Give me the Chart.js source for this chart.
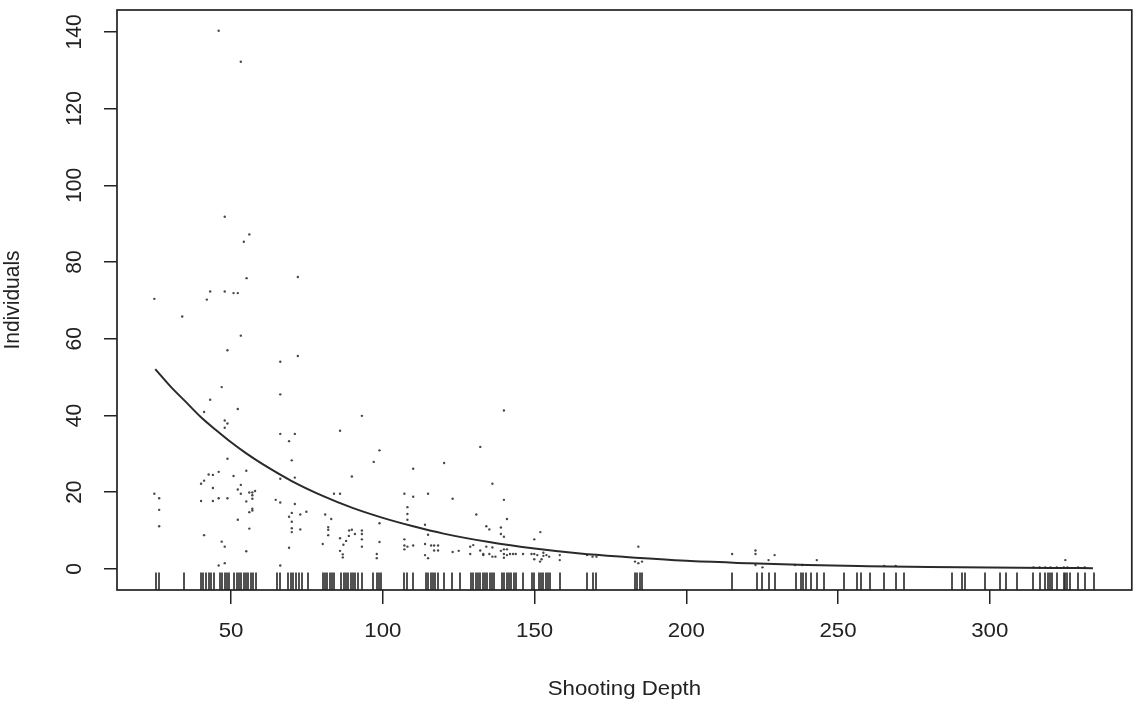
<!DOCTYPE html>
<html>
<head>
<meta charset="utf-8">
<script src="https://cdn.jsdelivr.net/npm/chart.js@4/dist/chart.umd.min.js"></script>
<style>
  html, body { margin: 0; padding: 0; background: #ffffff; }
  #plot { display: block; }
</style>
</head>
<body>
<canvas id="plot" width="1133" height="706"></canvas>
<script>
// Observed counts per shooting depth (paired arrays)
const depth = [
  45.9, 53.2, 47.9, 56.0, 54.2, 55.1, 72.0, 43.1, 47.9, 50.8, 52.2, 24.7, 42.0, 33.9, 53.2, 48.8,
  66.2, 72.0, 46.9, 43.1, 66.2, 41.1, 52.2, 47.9, 48.8, 47.9, 66.2, 69.1, 71.0, 85.9, 70.0, 48.8,
  55.0, 45.9, 44.0, 42.6, 50.8, 40.1, 41.1, 44.0, 52.2, 53.2, 53.2, 56.0, 57.0, 57.9, 57.0, 57.0,
  71.0, 89.8, 24.7, 26.3, 26.3, 26.3, 40.1, 44.0, 45.9, 48.8, 55.0, 57.0, 56.0, 57.0, 64.7, 66.2,
  70.0, 69.1, 70.0, 70.0, 70.0, 71.0, 72.8, 72.8, 74.8, 52.2, 56.0, 55.0, 41.1, 46.9, 47.9, 45.9,
  47.9, 66.2, 69.1, 81.0, 83.0, 83.9, 85.9, 82.0, 82.0, 82.0, 80.2, 85.9, 87.0, 88.8, 89.8, 90.8,
  85.9, 86.8, 86.8, 87.9, 88.9, 66.2, 93.1, 97.0, 98.9, 110.0, 120.2, 139.9, 132.1, 136.1, 139.9, 140.9,
  107.1, 110.0, 114.9, 123.0, 108.1, 108.1, 108.1, 130.8, 134.1, 135.1, 138.9, 138.9, 139.9, 93.1, 93.1, 93.1,
  93.1, 98.0, 98.0, 98.9, 98.9, 107.1, 107.1, 107.1, 108.1, 110.0, 113.9, 114.9, 113.9, 115.9, 116.9, 118.2,
  116.9, 118.2, 113.9, 114.9, 123.0, 125.0, 128.8, 129.8, 128.8, 132.1, 133.1, 133.1, 134.1, 135.1, 136.1, 136.1,
  137.1, 138.9, 139.9, 140.9, 139.9, 140.9, 141.9, 142.9, 143.8, 139.9, 146.2, 149.0, 149.9, 149.9, 150.9, 151.8,
  152.3, 152.9, 152.9, 153.9, 154.8, 149.9, 151.9, 158.3, 158.3, 167.3, 169.1, 170.4, 184.2, 183.1, 184.2, 185.4,
  215.1, 222.8, 222.8, 227.1, 229.1, 222.8, 225.1, 235.8, 238.2, 243.0, 265.2, 269.0, 324.9,
  314.4, 316.4, 318.3, 320.0, 322.1, 324.4, 325.6, 329.1, 331.3
];
const individuals = [
  140.3, 132.2, 91.8, 87.2, 85.3, 75.8, 76.1, 72.3, 72.3, 71.9, 71.9, 70.4, 70.2, 65.8, 60.8, 57.0,
  54.0, 55.5, 47.4, 44.1, 45.5, 40.9, 41.7, 38.7, 37.9, 36.8, 35.2, 33.3, 35.2, 36.0, 28.3, 28.7,
  25.6, 25.3, 24.5, 24.6, 24.2, 22.2, 23.0, 21.1, 20.7, 21.9, 19.6, 19.9, 19.9, 20.3, 19.2, 18.3,
  23.8, 24.1, 19.6, 18.4, 15.4, 11.1, 17.7, 17.7, 18.4, 18.4, 17.6, 15.7, 14.8, 15.2, 18.0, 17.3,
  14.6, 13.6, 12.3, 10.6, 9.6, 16.9, 14.2, 10.3, 14.9, 12.8, 10.5, 4.6, 8.8, 7.1, 5.8, 0.9,
  1.5, 0.9, 5.5, 14.2, 13.0, 19.6, 19.6, 10.9, 10.2, 8.8, 6.5, 8.0, 6.3, 8.6, 10.2, 9.1,
  4.7, 3.8, 3.0, 7.3, 10.0, 23.5, 39.9, 27.9, 30.9, 26.1, 27.6, 41.3, 31.8, 22.2, 18.0, 13.0,
  19.6, 18.8, 19.6, 18.3, 16.1, 14.3, 12.8, 14.2, 11.1, 10.3, 10.8, 9.1, 8.4, 10.0, 9.1, 7.7,
  5.8, 3.9, 2.8, 11.9, 7.0, 7.7, 6.1, 5.1, 5.8, 6.1, 11.5, 8.9, 6.5, 6.1, 6.1, 6.1,
  4.8, 4.8, 3.6, 2.8, 4.4, 4.7, 5.8, 6.2, 3.9, 4.8, 3.9, 3.6, 5.8, 3.9, 5.6, 3.2,
  3.2, 4.7, 5.1, 5.1, 3.9, 3.6, 3.9, 3.9, 3.9, 2.9, 3.9, 3.9, 3.9, 2.5, 3.6, 1.9,
  2.5, 4.2, 3.4, 3.6, 3.2, 7.7, 9.6, 3.6, 2.3, 3.6, 3.2, 3.2, 5.8, 1.9, 1.5, 1.9,
  3.9, 4.8, 3.9, 2.3, 3.6, 1.0, 0.4, 1.0, 1.0, 2.3, 0.8, 0.8, 2.3,
  0.4, 0.4, 0.4, 0.4, 0.4, 0.4, 0.4, 0.4, 0.4
];

// Every sampled depth, shown as a rug along the bottom of the panel
const rugDepths = [
  25.1, 26.3, 34.4, 40.0, 40.9, 41.8, 42.6, 43.5, 44.3, 46.4, 47.1, 47.9, 48.7, 49.4, 51.0, 51.9,
  52.6, 53.4, 54.2, 54.9, 55.7, 56.5, 57.3, 58.1, 65.0, 66.2, 68.9, 69.8, 70.5, 71.3, 72.3, 73.4,
  75.5, 80.2, 81.0, 81.7, 82.5, 83.3, 84.0, 86.3, 87.1, 87.9, 88.6, 89.4, 90.2, 90.9, 91.7, 93.1,
  96.9, 98.0, 98.7, 99.5, 107.0, 107.9, 110.0, 114.2, 115.0, 115.8, 116.5, 117.3, 118.1, 120.2,
  122.9, 125.4, 129.1, 129.8, 130.6, 131.4, 132.1, 132.9, 133.7, 134.4, 135.2, 136.0, 136.7, 139.3,
  140.0, 140.8, 141.6, 142.3, 143.1, 143.9, 146.2, 149.0, 149.9, 151.3, 152.1, 152.9, 153.7, 154.4,
  155.2, 158.3, 167.3, 169.1, 170.4, 183.1, 183.9, 184.6, 185.4, 215.1, 223.2, 225.1, 227.1, 229.1,
  236.3, 237.9, 238.6, 239.4, 241.1, 243.0, 245.4, 252.1, 256.2, 257.6, 260.4, 265.2, 269.0, 271.6,
  287.4, 291.0, 291.8, 298.4, 303.3, 305.3, 309.1, 314.4, 316.4, 318.3, 319.1, 319.9, 320.4, 322.1,
  324.4, 324.9, 325.6, 326.4, 329.1, 331.3, 334.4
];

// Fitted trend of individuals against depth
const curveDepth = [25, 30, 35, 40, 45, 50, 55, 60, 70, 80, 90, 100, 110, 120, 135, 150, 165, 180, 200, 220, 240, 260, 280, 300, 320, 334];
const curveFit   = [52.1, 47.6, 43.6, 39.6, 36.2, 33.0, 30.1, 27.5, 22.9, 19.1, 15.9, 13.3, 11.1, 9.2, 7.0, 5.3, 4.0, 3.1, 2.1, 1.5, 1.0, 0.71, 0.49, 0.34, 0.24, 0.19];

const xTicks = [50, 100, 150, 200, 250, 300];
const yTicks = [0, 20, 40, 60, 80, 100, 120, 140];

const xTitle = 'Shooting Depth';
const yTitle = 'Individuals';

const INK = '#222222';
const FONT = '21px "Liberation Sans", Arial, sans-serif';
const STRETCH = 1.06;

// Panel frame, rug and all axis text
const basePlot = {
  id: 'basePlot',
  afterDatasetsDraw(chart) {
    const { ctx, chartArea: a, scales: { x, y } } = chart;
    ctx.save();

    // rug marks rising from the bottom edge
    const rugLen = (a.bottom - a.top) * 0.03;
    ctx.strokeStyle = '#333333';
    ctx.lineWidth = 1.7;
    ctx.beginPath();
    rugDepths.forEach(d => {
      const px = Math.round(x.getPixelForValue(d));
      ctx.moveTo(px, a.bottom);
      ctx.lineTo(px, a.bottom - rugLen);
    });
    ctx.stroke();

    // box round the panel
    ctx.strokeStyle = INK;
    ctx.lineWidth = 1.7;
    ctx.strokeRect(a.left, a.top, a.right - a.left, a.bottom - a.top);

    ctx.fillStyle = INK;
    ctx.font = FONT;
    ctx.textAlign = 'center';
    ctx.textBaseline = 'middle';

    // x tick labels
    xTicks.forEach(v => {
      const px = x.getPixelForValue(v);
      ctx.save();
      ctx.translate(px, 631);
      ctx.scale(STRETCH, 1);
      ctx.fillText(String(v), 0, 0);
      ctx.restore();
    });

    // y tick labels, turned to read upwards
    yTicks.forEach(v => {
      const py = y.getPixelForValue(v);
      ctx.save();
      ctx.translate(75, py);
      ctx.scale(STRETCH, 1);
      ctx.rotate(-Math.PI / 2);
      ctx.fillText(String(v), 0, 0);
      ctx.restore();
    });

    // axis titles
    ctx.save();
    ctx.translate((a.left + a.right) / 2, 689);
    ctx.scale(STRETCH, 1);
    ctx.fillText(xTitle, 0, 0);
    ctx.restore();

    ctx.save();
    ctx.translate(13, (a.top + a.bottom) / 2);
    ctx.scale(STRETCH, 1);
    ctx.rotate(-Math.PI / 2);
    ctx.fillText(yTitle, 0, 0);
    ctx.restore();

    ctx.restore();
  }
};

new Chart(document.getElementById('plot'), {
  type: 'scatter',
  data: {
    datasets: [
      {
        label: 'observed',
        data: depth.map((d, i) => ({ x: d, y: individuals[i] })),
        pointStyle: 'circle',
        pointRadius: 1.2,
        pointHoverRadius: 1.2,
        backgroundColor: 'rgba(40,40,40,0.85)',
        borderWidth: 0
      },
      {
        label: 'fit',
        type: 'line',
        data: curveDepth.map((d, i) => ({ x: d, y: curveFit[i] })),
        borderColor: '#2a2a2a',
        borderWidth: 2,
        pointRadius: 0,
        fill: false,
        cubicInterpolationMode: 'monotone'
      }
    ]
  },
  options: {
    responsive: false,
    devicePixelRatio: 1,
    animation: false,
    events: [],
    layout: { padding: { top: 10, right: 1, left: 0, bottom: 0 } },
    plugins: { legend: { display: false }, tooltip: { enabled: false } },
    scales: {
      x: {
        type: 'linear',
        position: 'bottom',
        min: 12.4,
        max: 346.8,
        afterBuildTicks: s => { s.ticks = xTicks.map(v => ({ value: v })); },
        afterFit: s => { s.height = 116; },
        ticks: { display: false },
        border: { display: false },
        grid: { drawOnChartArea: false, drawTicks: true, tickLength: 14, color: INK, lineWidth: 1.5 }
      },
      y: {
        type: 'linear',
        position: 'left',
        min: -5.5,
        max: 145.7,
        afterBuildTicks: s => { s.ticks = yTicks.map(v => ({ value: v })); },
        afterFit: s => { s.width = 117; },
        ticks: { display: false },
        border: { display: false },
        grid: { drawOnChartArea: false, drawTicks: true, tickLength: 13, color: INK, lineWidth: 1.5 }
      }
    }
  },
  plugins: [basePlot]
});
</script>
</body>
</html>
